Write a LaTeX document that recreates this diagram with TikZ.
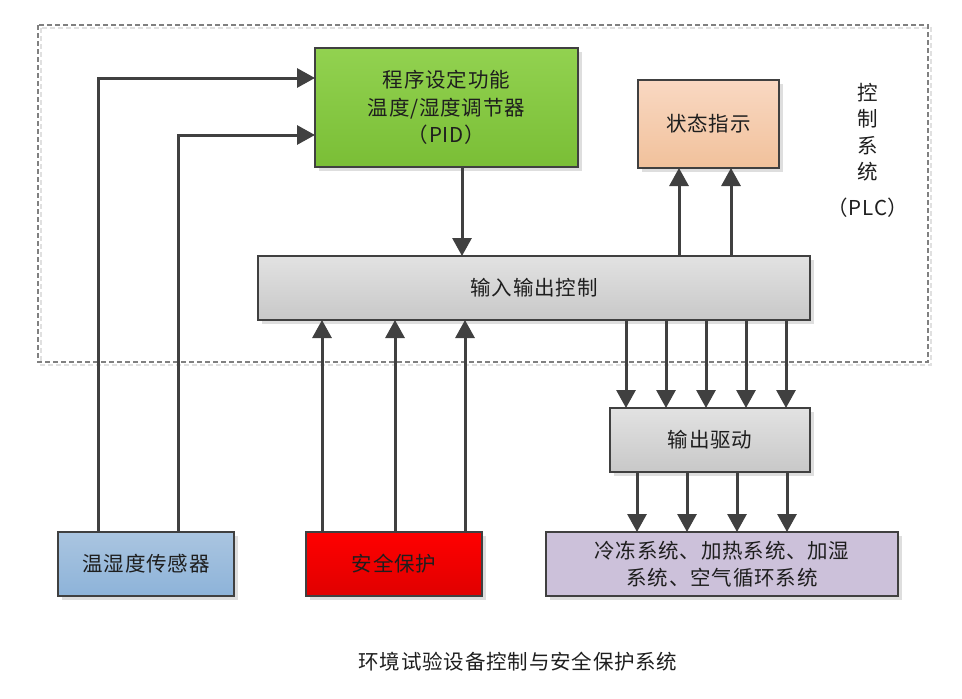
\documentclass[tikz,border=0pt]{standalone}
\usepackage{fontspec}
\setmainfont{Noto Sans CJK SC}[LetterSpace=4]
\usetikzlibrary{
    arrows.meta,   % For the triangle arrow tips
    positioning,   % For relative placement of nodes
    shadows        % For the grey box shadows
}
\definecolor{linegray}{RGB}{64,64,64}
\definecolor{borderdash}{RGB}{128,128,128}
\definecolor{pidtop}{RGB}{146,210,80}
\definecolor{pidbot}{RGB}{122,190,54}
\definecolor{stattop}{RGB}{249,216,194}
\definecolor{statbot}{RGB}{241,193,155}
\definecolor{greytop}{RGB}{226,226,226}
\definecolor{greybot}{RGB}{200,200,200}
\definecolor{senstop}{RGB}{170,197,224}
\definecolor{sensbot}{RGB}{141,179,217}
\definecolor{safetop}{RGB}{255,0,0}
\definecolor{safebot}{RGB}{224,0,0}
\definecolor{sysfill}{RGB}{204,193,218}
\definecolor{textdark}{RGB}{30,30,30}

\begin{document}
\begin{tikzpicture}[
    x=1pt, y=-1pt,
    font=\fontsize{20.5}{27.5}\selectfont,
    box/.style={draw=linegray, line width=1.5pt, inner sep=0pt, outer sep=0pt,
        align=center, text=textdark,
        general shadow={fill=black!13, shadow xshift=4pt, shadow yshift=-4pt}},
    flow/.style={draw=linegray, line width=3pt,
        -{Triangle[length=18pt, width=19pt]}}
]
    \useasboundingbox (0,0) rectangle (962,699);

    % --- The PLC frame ---
    \draw[black!12, line width=2.2pt, dash pattern=on 5pt off 3pt] (41,28) rectangle (931,365);
    \draw[borderdash, line width=2.2pt, dash pattern=on 5pt off 3pt] (38,25) rectangle (928,362);
    \node[align=center, text=textdark] (plc_label) at (868,150)
        {控\\[-1pt]制\\[-1pt]系\\[-1pt]统\\[8pt]（PLC）};

    % --- Boxes inside the controller ---
    \node[box, top color=pidtop, bottom color=pidbot,
          minimum width=263pt, minimum height=119pt] (pid) at (446.5,107.5)
        {程序设定功能\\温度/湿度调节器\\（PID）};
    \node[box, top color=stattop, bottom color=statbot,
          minimum width=141pt, minimum height=88pt] (status) at (708.5,124) {状态指示};
    \node[box, top color=greytop, bottom color=greybot,
          minimum width=552pt, minimum height=64pt] (io) at (534,288) {输入输出控制};

    % --- Boxes outside ---
    \node[box, top color=greytop, bottom color=greybot,
          minimum width=200pt, minimum height=64pt] (drive) at (710,440) {输出驱动};
    \node[box, top color=senstop, bottom color=sensbot,
          minimum width=176pt, minimum height=64pt] (sensor) at (146,564) {温湿度传感器};
    \node[box, top color=safetop, bottom color=safebot,
          minimum width=176pt, minimum height=64pt] (safety) at (394,564) {安全保护};
    \node[box, fill=sysfill, minimum width=352pt, minimum height=64pt] (systems) at (722,564)
        {冷冻系统、加热系统、加湿\\系统、空气循环系统};

    % --- Connectors ---
    \draw[flow] (sensor.north -| 98,0) |- (pid.west |- 0,78);
    \draw[flow] (sensor.north -| 178,0) |- (pid.west |- 0,135);
    \draw[flow] (pid.south -| 462,0) -- (io.north -| 462,0);
    \foreach \x in {679,731}
        \draw[flow] (io.north -| \x,0) -- (status.south -| \x,0);
    \foreach \x in {322,395,465}
        \draw[flow] (safety.north -| \x,0) -- (io.south -| \x,0);
    \foreach \x in {626,666,706,746,786}
        \draw[flow] (io.south -| \x,0) -- (drive.north -| \x,0);
    \foreach \x in {637,687,737,787}
        \draw[flow] (drive.south -| \x,0) -- (systems.north -| \x,0);

    % --- Caption ---
    \node[text=textdark] (caption) at (518,662) {环境试验设备控制与安全保护系统};
\end{tikzpicture}
\end{document}
